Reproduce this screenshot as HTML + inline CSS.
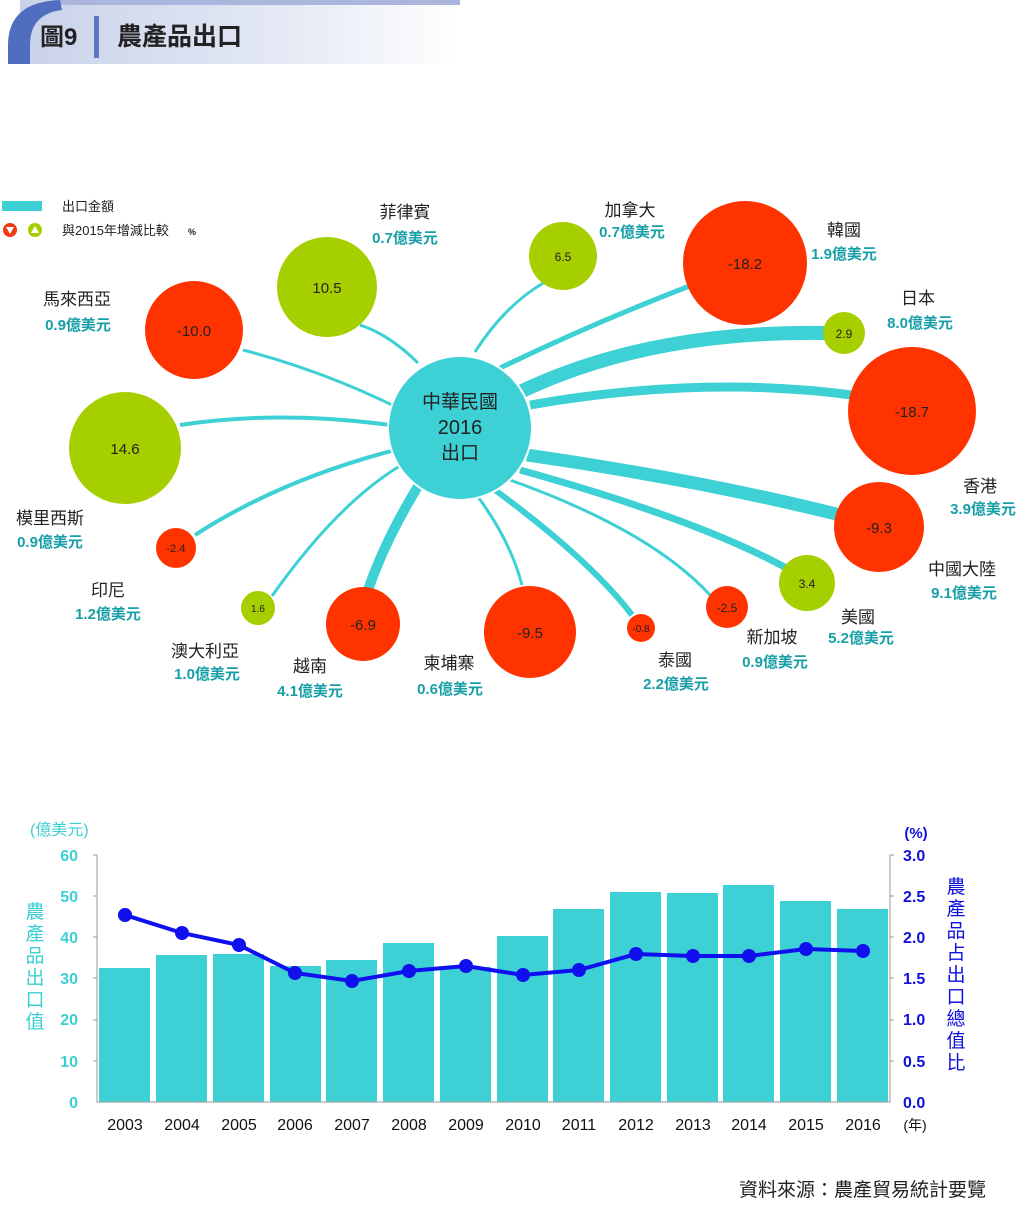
<!DOCTYPE html>
<html><head><meta charset="utf-8"><style>
body{margin:0;width:1021px;height:1200px;background:#fff;overflow:hidden;font-family:"Liberation Sans","Noto Sans CJK TC",sans-serif}
</style></head><body>
<svg width="1021" height="1200" viewBox="0 0 1021 1200" xmlns="http://www.w3.org/2000/svg" font-family="Liberation Sans, Noto Sans CJK TC, sans-serif">
<defs>
<linearGradient id="hg" x1="0" x2="1" y1="0" y2="0"><stop offset="0" stop-color="#c9d2ea"/><stop offset="0.6" stop-color="#e4e9f4"/><stop offset="1" stop-color="#ffffff"/></linearGradient>
</defs>
<rect x="20" y="0" width="440" height="64" fill="url(#hg)"/>
<path d="M60 0 L460 0 L460 5 L60 5 Z" fill="#aab6dc"/>
<path d="M60 0 Q8 2 8 45 L8 64 L30 64 L30 45 Q30 14 62 10 Z" fill="#4f6ec0"/>
<text x="40" y="45" font-size="24" fill="#222" font-weight="bold">圖9</text>
<rect x="94" y="16" width="5" height="42" fill="#5a78c4"/>
<text x="117" y="45" font-size="25" fill="#222" font-weight="bold">農產品出口</text>

<rect x="2" y="201" width="40" height="10" fill="#3dd0d5"/>
<text x="62" y="211" font-size="13" fill="#222">出口金額</text>
<circle cx="10" cy="230" r="7" fill="#ee3b12"/><path d="M6 227 L14 227 L10 234Z" fill="#fff"/>
<circle cx="35" cy="230" r="7" fill="#a6cf00"/><path d="M31 233 L39 233 L35 226Z" fill="#fff"/>
<text x="62" y="235" font-size="13" fill="#222">與2015年增減比較</text><text x="188" y="235" font-size="9" fill="#222" font-weight="bold">%</text>

<g fill="none" stroke="#3dd0d5" stroke-linecap="butt">
<path d="M418 363 Q390 335 360 325" stroke-width="3"/>
<path d="M475 352 Q505 305 545 282" stroke-width="3"/>
<path d="M500 368 Q600 320 700 282" stroke-width="5"/>
<path d="M520 392 Q650 330 826 333" stroke-width="14"/>
<path d="M530 405 Q700 375 852 395" stroke-width="9"/>
<path d="M527 455 Q700 480 840 515" stroke-width="13"/>
<path d="M520 470 Q700 520 790 570" stroke-width="7"/>
<path d="M510 480 Q650 530 710 595" stroke-width="3"/>
<path d="M495 490 Q590 560 632 615" stroke-width="6"/>
<path d="M478 497 Q510 540 522 585" stroke-width="3"/>
<path d="M420 483 Q385 540 368 590" stroke-width="10"/>
<path d="M405 463 Q340 500 272 596" stroke-width="3"/>
<path d="M395 450 Q280 480 195 535" stroke-width="4"/>
<path d="M390 425 Q280 410 180 425" stroke-width="4"/>
<path d="M392 405 Q320 370 243 350" stroke-width="3"/>
</g>

<circle cx="460" cy="428" r="72" fill="#3dd0d5" stroke="#fff" stroke-width="2"/>
<text x="460" y="408" font-size="19" text-anchor="middle" fill="#222">中華民國</text>
<text x="460" y="434" font-size="20" text-anchor="middle" fill="#222">2016</text>
<text x="460" y="459" font-size="19" text-anchor="middle" fill="#222">出口</text>

<g font-size="15" text-anchor="middle" fill="#222">
<circle cx="327" cy="287" r="50" fill="#a6cf00"/><text x="327" y="293">10.5</text>
<circle cx="563" cy="256" r="34" fill="#a6cf00"/><text x="563" y="261" font-size="12">6.5</text>
<circle cx="745" cy="263" r="62" fill="#ff3300"/><text x="745" y="269">-18.2</text>
<circle cx="844" cy="333" r="21" fill="#a6cf00"/><text x="844" y="338" font-size="12">2.9</text>
<circle cx="912" cy="411" r="64" fill="#ff3300"/><text x="912" y="417">-18.7</text>
<circle cx="879" cy="527" r="45" fill="#ff3300"/><text x="879" y="533">-9.3</text>
<circle cx="807" cy="583" r="28" fill="#a6cf00"/><text x="807" y="588" font-size="12">3.4</text>
<circle cx="727" cy="607" r="21" fill="#ff3300"/><text x="727" y="612" font-size="12">-2.5</text>
<circle cx="641" cy="628" r="14" fill="#ff3300"/><text x="641" y="632" font-size="10">-0.8</text>
<circle cx="530" cy="632" r="46" fill="#ff3300"/><text x="530" y="638">-9.5</text>
<circle cx="363" cy="624" r="37" fill="#ff3300"/><text x="363" y="630">-6.9</text>
<circle cx="258" cy="608" r="17" fill="#a6cf00"/><text x="258" y="612" font-size="10">1.6</text>
<circle cx="176" cy="548" r="20" fill="#ff3300"/><text x="176" y="552" font-size="11">-2.4</text>
<circle cx="125" cy="448" r="56" fill="#a6cf00"/><text x="125" y="454">14.6</text>
<circle cx="194" cy="330" r="49" fill="#ff3300"/><text x="194" y="336">-10.0</text>
</g>

<g font-size="17" fill="#222" text-anchor="middle">
<text x="405" y="218">菲律賓</text>
<text x="630" y="216">加拿大</text>
<text x="844" y="236">韓國</text>
<text x="918" y="304">日本</text>
<text x="980" y="492">香港</text>
<text x="962" y="575">中國大陸</text>
<text x="858" y="623">美國</text>
<text x="772" y="643">新加坡</text>
<text x="675" y="666">泰國</text>
<text x="449" y="669">柬埔寨</text>
<text x="310" y="672">越南</text>
<text x="205" y="657">澳大利亞</text>
<text x="108" y="596">印尼</text>
<text x="50" y="524">模里西斯</text>
<text x="77" y="305">馬來西亞</text>
</g>
<g font-size="15" fill="#179fa8" font-weight="bold" text-anchor="middle">
<text x="405" y="243">0.7億美元</text>
<text x="632" y="237">0.7億美元</text>
<text x="844" y="259">1.9億美元</text>
<text x="920" y="328">8.0億美元</text>
<text x="983" y="514">3.9億美元</text>
<text x="964" y="598">9.1億美元</text>
<text x="861" y="643">5.2億美元</text>
<text x="775" y="667">0.9億美元</text>
<text x="676" y="689">2.2億美元</text>
<text x="450" y="694">0.6億美元</text>
<text x="310" y="696">4.1億美元</text>
<text x="207" y="679">1.0億美元</text>
<text x="108" y="619">1.2億美元</text>
<text x="50" y="547">0.9億美元</text>
<text x="78" y="330">0.9億美元</text>
</g>

<text x="30" y="835" font-size="16" fill="#3dcfd4">(億美元)</text>
<text x="916" y="838" font-size="15" fill="#1010dd" font-weight="bold" text-anchor="middle">(%)</text>
<g font-size="16" font-weight="bold" fill="#3dcfd4" text-anchor="end">
<text x="78" y="861">60</text><text x="78" y="902">50</text><text x="78" y="943">40</text><text x="78" y="984">30</text><text x="78" y="1025">20</text><text x="78" y="1067">10</text><text x="78" y="1108">0</text>
</g>
<g font-size="16" font-weight="bold" fill="#1010dd">
<text x="903" y="861">3.0</text><text x="903" y="902">2.5</text><text x="903" y="943">2.0</text><text x="903" y="984">1.5</text><text x="903" y="1025">1.0</text><text x="903" y="1067">0.5</text><text x="903" y="1108">0.0</text>
</g>
<g font-size="19" fill="#3dcfd4" text-anchor="middle">
<text x="35" y="918">農</text><text x="35" y="940">產</text><text x="35" y="962">品</text><text x="35" y="984">出</text><text x="35" y="1006">口</text><text x="35" y="1028">值</text>
</g>
<g font-size="19" fill="#1010dd" text-anchor="middle">
<text x="956" y="893">農</text><text x="956" y="915">產</text><text x="956" y="937">品</text><text x="956" y="959">占</text><text x="956" y="981">出</text><text x="956" y="1003">口</text><text x="956" y="1025">總</text><text x="956" y="1047">值</text><text x="956" y="1069">比</text>
</g>
<g fill="#3dd0d5">
<rect x="99" y="968" width="51" height="134"/>
<rect x="156" y="955" width="51" height="147"/>
<rect x="213" y="954" width="51" height="148"/>
<rect x="270" y="966" width="51" height="136"/>
<rect x="326" y="960" width="51" height="142"/>
<rect x="383" y="943" width="51" height="159"/>
<rect x="440" y="967" width="51" height="135"/>
<rect x="497" y="936" width="51" height="166"/>
<rect x="553" y="909" width="51" height="193"/>
<rect x="610" y="892" width="51" height="210"/>
<rect x="667" y="893" width="51" height="209"/>
<rect x="723" y="885" width="51" height="217"/>
<rect x="780" y="901" width="51" height="201"/>
<rect x="837" y="909" width="51" height="193"/>
</g>
<g stroke="#999" stroke-width="1" fill="none">
<path d="M97 855 V1102 H890 V855"/>
<path d="M93 855 H97 M93 896 H97 M93 937 H97 M93 978 H97 M93 1020 H97 M93 1061 H97"/>
<path d="M890 855 H894 M890 896 H894 M890 937 H894 M890 978 H894 M890 1020 H894 M890 1061 H894"/>
</g>
<polyline fill="none" stroke="#1010ee" stroke-width="4" points="125,915 182,933 239,945 295,973 352,981 409,971 466,966 523,975 579,970 636,954 693,956 749,956 806,949 863,951"/>
<g fill="#1010ee">
<circle cx="125" cy="915" r="7"/><circle cx="182" cy="933" r="7"/><circle cx="239" cy="945" r="7"/><circle cx="295" cy="973" r="7"/><circle cx="352" cy="981" r="7"/><circle cx="409" cy="971" r="7"/><circle cx="466" cy="966" r="7"/><circle cx="523" cy="975" r="7"/><circle cx="579" cy="970" r="7"/><circle cx="636" cy="954" r="7"/><circle cx="693" cy="956" r="7"/><circle cx="749" cy="956" r="7"/><circle cx="806" cy="949" r="7"/><circle cx="863" cy="951" r="7"/>
</g>
<g font-size="16" fill="#111" text-anchor="middle">
<text x="125" y="1130">2003</text><text x="182" y="1130">2004</text><text x="239" y="1130">2005</text><text x="295" y="1130">2006</text><text x="352" y="1130">2007</text><text x="409" y="1130">2008</text><text x="466" y="1130">2009</text><text x="523" y="1130">2010</text><text x="579" y="1130">2011</text><text x="636" y="1130">2012</text><text x="693" y="1130">2013</text><text x="749" y="1130">2014</text><text x="806" y="1130">2015</text><text x="863" y="1130">2016</text>
<text x="915" y="1130" font-size="14">(年)</text>
</g>
<text x="986" y="1196" font-size="19" fill="#222" text-anchor="end">資料來源：農產貿易統計要覽</text>
</svg>
</body></html>
